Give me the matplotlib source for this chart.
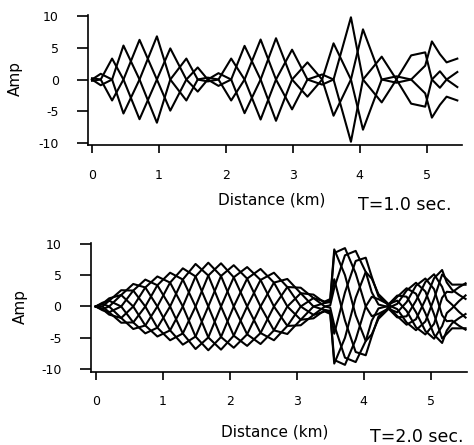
import numpy as np
import matplotlib
matplotlib.use("Agg")
import matplotlib.pyplot as plt

plt.rcParams['axes.unicode_minus'] = False

# envelope: distance (km), amplitude, phase step
# (one step = one line's crest moving on to the next line)
top_dist = [0.00, 0.13, 0.30, 0.47, 0.71, 0.97, 1.17, 1.41, 1.58, 1.73,
            1.89, 2.08, 2.28, 2.52, 2.75, 2.99, 3.22, 3.44, 3.61, 3.87,
            4.05, 4.33, 4.55, 4.77, 4.98, 5.08, 5.20, 5.30, 5.46]
top_amp = [0.2, 0.9, 3.3, 5.35, 6.25, 6.8, 4.9, 3.3, 1.9, 0.3,
           1.0, 3.3, 5.3, 6.3, 6.5, 4.7, 2.7, 0.8, 5.7, 9.8,
           7.9, 3.6, 0.5, 3.8, 4.8, 6.0, 4.2, 2.7, 3.5]
top_phase = [0, 1, 2, 3, 4, 5, 6, 7, 8, 9,
             10, 11, 12, 13, 14, 15, 16, 17, 18, 19,
             20, 21, 22, 23, 23.3, 24, 24.2, 24, 23.78]
n_top = 4

bot_dist = [0.00, 0.10, 0.20, 0.38, 0.56, 0.74, 0.92, 1.11, 1.30, 1.49,
            1.68, 1.87, 2.06, 2.26, 2.46, 2.66, 2.86, 3.06, 3.25, 3.42,
            3.50, 3.56, 3.72, 3.88, 4.03, 4.12, 4.22, 4.37,
            4.50, 4.64, 4.78, 4.92, 5.05, 5.17, 5.24, 5.32, 5.42, 5.52]
bot_amp = [0.0, 0.6, 1.3, 2.6, 3.6, 4.3, 4.8, 5.4, 6.1, 6.8,
           7.0, 6.9, 6.6, 6.3, 6.0, 5.4, 4.4, 3.0, 1.9, 0.8,
           1.2, 9.6, 9.6, 9.0, 7.8, 5.0, 2.0, 0.4,
           1.8, 3.0, 3.9, 4.6, 5.3, 6.0, 4.5, 3.5, 3.6, 3.9]
bot_phase = [0, 1, 2, 3, 4, 5, 6, 7, 8, 9,
             10, 11, 12, 13, 14, 15, 16, 17, 18, 19,
             19.2, 19.4, 20.3, 21.2, 22.0, 22.4, 22.8, 23.3,
             24.3, 25.3, 26.3, 27.3, 28.3, 29.3, 29.7, 29.9, 30.3, 30.6]
n_bot = 8

yticks = [-10, -5, 0, 5, 10]
xticks = [0, 1, 2, 3, 4, 5]


def draw(ax, dist, amp, phase, n):
    dist = np.array(dist)
    amp = np.array(amp)
    phase = np.array(phase)
    for j in range(n):
        y = amp * np.cos(2 * np.pi * (phase - j) / n)
        ax.plot(dist, y, color='black', lw=1.5, solid_joinstyle='round')
    for s in ['top', 'right']:
        ax.spines[s].set_visible(False)
    for s in ['left', 'bottom']:
        ax.spines[s].set_linewidth(1.2)
    ax.set_xticks(xticks)
    ax.set_yticks(yticks)
    ax.set_yticklabels([str(v) for v in yticks])
    ax.tick_params(axis='x', direction='out', length=6, width=1.2, pad=11, labelsize=9)
    ax.tick_params(axis='y', direction='out', length=8, width=1.2, pad=13, labelsize=9)


fig = plt.figure(figsize=(4.74, 4.45), dpi=100)

ax1 = fig.add_axes([88 / 474, 1 - 145 / 445, 374 / 474, 130 / 445])
draw(ax1, top_dist, top_amp, top_phase, n_top)
ax1.set_xlim(-0.06, 5.53)
ax1.set_ylim(-10.31, 10.16)

ax2 = fig.add_axes([90.7 / 474, 1 - 371.7 / 445, 376 / 474, 129 / 445])
draw(ax2, bot_dist, bot_amp, bot_phase, n_bot)
ax2.set_xlim(-0.075, 5.537)
ax2.set_ylim(-10.43, 10.2)

fig.text(15 / 474, 1 - 79 / 445, "Amp", rotation=90, ha='center', va='center', fontsize=11)
fig.text(20 / 474, 1 - 306 / 445, "Amp", rotation=90, ha='center', va='center', fontsize=11)
fig.text(272 / 474, 1 - 200 / 445, "Distance (km)", ha='center', va='center', fontsize=11)
fig.text(275 / 474, 1 - 432 / 445, "Distance (km)", ha='center', va='center', fontsize=11)
fig.text(358 / 474, 1 - 205 / 445, "T=1.0 sec.", ha='left', va='center', fontsize=12.5)
fig.text(370 / 474, 1 - 428 / 445, "T=2.0 sec.", ha='left', va='top', fontsize=12.5)

fig.savefig("out.png", dpi=100)
